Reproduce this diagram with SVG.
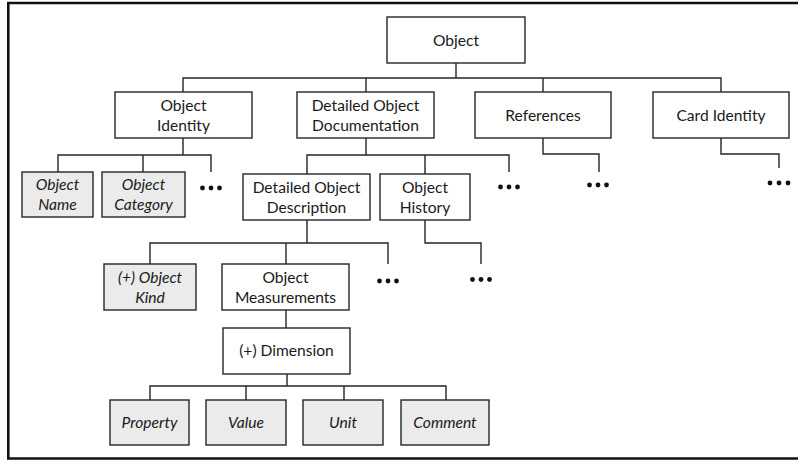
<svg xmlns="http://www.w3.org/2000/svg" width="798" height="462" viewBox="0 0 798 462">
<style>
.box{fill:#ffffff;stroke:#262626;stroke-width:1.4}
.gbox{fill:#ebebeb;stroke:#262626;stroke-width:1.4}
.t{font-family:Lato,"Liberation Sans",sans-serif;font-size:15.6px;fill:#1a1a1a;text-anchor:middle}
.i{font-style:italic}
.c{fill:none;stroke:#262626;stroke-width:1.4}
.d{fill:#111111}
</style>
<rect width="798" height="462" fill="#ffffff"/>
<path d="M798,3 H8.3 V458.5 H798" fill="none" stroke="#111111" stroke-width="2.6"/>
<g id="connectors">
<path class="c" d="M456,63 V78 M183,92 V78 H721 V92 M366,78 V92 M543,78 V92"/>
<path class="c" d="M183,138 V155 M58,172 V155 H211 V172 M143,155 V172"/>
<path class="c" d="M366,138 V155 M307,174 V155 H509 V172 M425,155 V174"/>
<path class="c" d="M543,138 V154 H599 V172"/>
<path class="c" d="M721,138 V154 H779 V168"/>
<path class="c" d="M307,220 V243 M150,264 V243 H388 V264 M286,243 V264"/>
<path class="c" d="M425,220 V243 H481 V264"/>
<path class="c" d="M286,310 V328"/>
<path class="c" d="M287,374 V386 M150,400 V386 H446 V400 M246,386 V400 M344,386 V400"/>
</g>
<g id="dots">
<circle class="d" cx="202.5" cy="188" r="2.4"/><circle class="d" cx="211" cy="188" r="2.4"/><circle class="d" cx="219.5" cy="188" r="2.4"/>
<circle class="d" cx="500.5" cy="187" r="2.4"/><circle class="d" cx="509" cy="187" r="2.4"/><circle class="d" cx="517.5" cy="187" r="2.4"/>
<circle class="d" cx="589.5" cy="185" r="2.4"/><circle class="d" cx="598" cy="185" r="2.4"/><circle class="d" cx="606.5" cy="185" r="2.4"/>
<circle class="d" cx="770" cy="183" r="2.4"/><circle class="d" cx="779" cy="183" r="2.4"/><circle class="d" cx="788" cy="183" r="2.4"/>
<circle class="d" cx="379.5" cy="281" r="2.4"/><circle class="d" cx="388" cy="281" r="2.4"/><circle class="d" cx="396.5" cy="281" r="2.4"/>
<circle class="d" cx="472.5" cy="279.5" r="2.4"/><circle class="d" cx="481" cy="279.5" r="2.4"/><circle class="d" cx="489.5" cy="279.5" r="2.4"/>
</g>
<g id="object"><rect class="box" x="387" y="17" width="138" height="46"/><text class="t" x="456" y="46">Object</text></g>
<g id="object-identity"><rect class="box" x="115" y="92" width="137" height="46"/><text class="t" x="183.5" y="111">Object</text><text class="t" x="183.5" y="131">Identity</text></g>
<g id="detailed-object-documentation"><rect class="box" x="297" y="92" width="137" height="46"/><text class="t" x="365.5" y="111">Detailed Object</text><text class="t" x="365.5" y="131">Documentation</text></g>
<g id="references"><rect class="box" x="475" y="92" width="136" height="46"/><text class="t" x="543" y="121">References</text></g>
<g id="card-identity"><rect class="box" x="653" y="92" width="136" height="46"/><text class="t" x="721" y="121">Card Identity</text></g>
<g id="object-name"><rect class="gbox" x="22" y="172" width="71" height="45"/><text class="t i" x="57.5" y="190">Object</text><text class="t i" x="57.5" y="210">Name</text></g>
<g id="object-category"><rect class="gbox" x="102" y="172" width="83" height="45"/><text class="t i" x="143.5" y="190">Object</text><text class="t i" x="143.5" y="210">Category</text></g>
<g id="detailed-object-description"><rect class="box" x="243" y="174" width="127" height="46"/><text class="t" x="306.5" y="193">Detailed Object</text><text class="t" x="306.5" y="213">Description</text></g>
<g id="object-history"><rect class="box" x="380" y="174" width="90" height="46"/><text class="t" x="425" y="193">Object</text><text class="t" x="425" y="213">History</text></g>
<g id="object-kind"><rect class="gbox" x="104" y="264" width="92" height="46"/><text class="t i" x="150" y="283">(+) Object</text><text class="t i" x="150" y="303">Kind</text></g>
<g id="object-measurements"><rect class="box" x="222" y="264" width="127" height="46"/><text class="t" x="285.5" y="283">Object</text><text class="t" x="285.5" y="303">Measurements</text></g>
<g id="dimension"><rect class="box" x="223" y="328" width="127" height="46"/><text class="t" x="286.5" y="356">(+) Dimension</text></g>
<g id="property"><rect class="gbox" x="110" y="400" width="79" height="45"/><text class="t i" x="149.5" y="428">Property</text></g>
<g id="value"><rect class="gbox" x="206" y="400" width="80" height="45"/><text class="t i" x="246" y="428">Value</text></g>
<g id="unit"><rect class="gbox" x="303" y="400" width="80" height="45"/><text class="t i" x="343" y="428">Unit</text></g>
<g id="comment"><rect class="gbox" x="401" y="400" width="88" height="45"/><text class="t i" x="445" y="428">Comment</text></g>
</svg>
